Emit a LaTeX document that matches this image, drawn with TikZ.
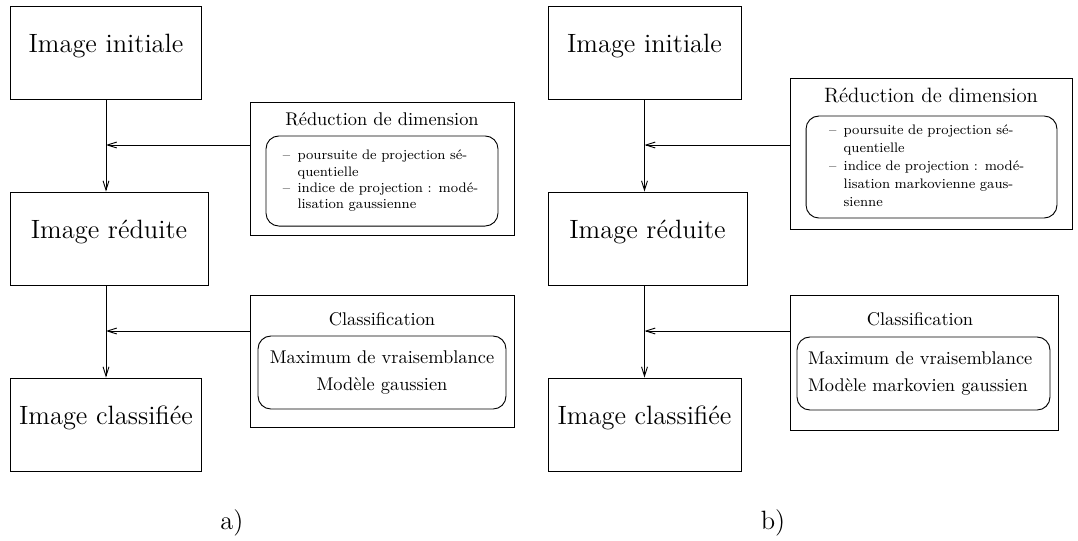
\documentclass[tikz,border=0pt]{standalone}
\usetikzlibrary{arrows.meta}
\begin{document}
\begin{tikzpicture}[x=0.544pt,y=-0.544pt,line width=0.5pt,
   fleche/.style={-{Straight Barb[length=5pt,width=3.2pt]}},
   etape/.style={draw,minimum height=50.6pt,inner xsep=2pt,text height=12pt,text depth=12pt,font=\Large},
   cadre/.style={draw},
   liste/.style={draw,rounded corners=7pt,align=left},
   titre/.style={anchor=base}]
   \useasboundingbox (0,0) rectangle (1078,540);

   % a) modele gaussien
   \node[etape,minimum width=104.4pt] (initA) at (106,52.5) {Image initiale};
   \node[etape,minimum width=107.7pt] (reduA) at (109,238.5) {Image réduite};
   \node[etape,minimum width=104.4pt] (classA) at (106,424.5) {Image classifiée};
   \draw[fleche] (initA.south) -- (initA.south |- reduA.north);
   \draw[fleche] (classA.north |- reduA.south) -- (classA.north);

   \node[cadre,minimum width=143.6pt,minimum height=72.4pt] (dimA) at (382,168.5) {};
   \node[titre] (titreDimA) at (382,125) {Réduction de dimension};
   \node[liste,minimum width=126.2pt,minimum height=49pt,text width=107.8pt,inner xsep=9.2pt,
         font=\fontsize{7.5}{8.8}\selectfont] (listeDimA) at (382,181)
      {\begin{tabular}{@{}l@{\hspace{4pt}}l@{}}
       -- & poursuite de projection sé-\\
          & quentielle\\
       -- & indice de projection : modé-\\
          & lisation gaussienne
       \end{tabular}};
   \coordinate (jA1) at (106,145);
   \draw[fleche] (dimA.west |- jA1) -- (jA1);

   \node[cadre,minimum width=143.6pt,minimum height=71.8pt] (clsA) at (382,361) {};
   \node[titre] (titreClsA) at (382,325) {Classification};
   \node[liste,minimum width=134.9pt,minimum height=39.7pt,align=center] (listeClsA) at (382,372.5)
      {Maximum de vraisemblance\\[3pt] Modèle gaussien};
   \coordinate (jA2) at (106,331);
   \draw[fleche] (clsA.west |- jA2) -- (jA2);

   \node[font=\Large] (legA) at (232,523) {a)};

   % b) modele markovien
   \node[etape,minimum width=105pt] (initB) at (644.5,52.5) {Image initiale};
   \node[etape,minimum width=108.3pt] (reduB) at (647.5,238.5) {Image réduite};
   \node[etape,minimum width=105pt] (classB) at (644.5,424.5) {Image classifiée};
   \draw[fleche] (initB.south) -- (initB.south |- reduB.north);
   \draw[fleche] (classB.north |- reduB.south) -- (classB.north);

   \node[cadre,minimum width=153.4pt,minimum height=82.1pt] (dimB) at (931,153.5) {};
   \node[titre,font=\fontsize{11.3}{13.5}\selectfont] (titreDimB) at (931,102) {Réduction de dimension};
   \node[liste,minimum width=136.5pt,minimum height=55.5pt,text width=111.5pt,inner xsep=12.5pt,
         font=\fontsize{7.5}{9.7}\selectfont] (listeDimB) at (931.5,167)
      {\begin{tabular}{@{}l@{\hspace{4pt}}l@{}}
       -- & poursuite de projection sé-\\
          & quentielle\\
       -- & indice de projection : modé-\\
          & lisation markovienne gaus-\\
          & sienne
       \end{tabular}};
   \coordinate (jB1) at (644.5,145);
   \draw[fleche] (dimB.west |- jB1) -- (jB1);

   \node[cadre,minimum width=145.8pt,minimum height=73.4pt] (clsB) at (924,362.5) {};
   \node[titre] (titreClsB) at (920,325) {Classification};
   \node[liste,minimum width=137.6pt,minimum height=39.7pt,text width=125.6pt,inner xsep=6pt] (listeClsB) at (923.5,373.5)
      {Maximum de vraisemblance\\[3pt] Modèle markovien gaussien};
   \coordinate (jB2) at (644.5,331);
   \draw[fleche] (clsB.west |- jB2) -- (jB2);

   \node[font=\Large] (legB) at (773,523) {b)};
\end{tikzpicture}
\end{document}
